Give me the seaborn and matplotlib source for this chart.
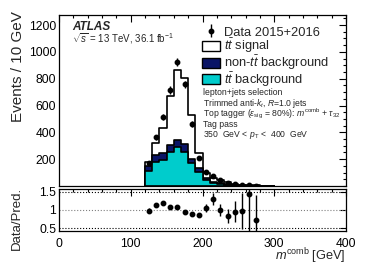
import pandas as pd
import matplotlib
matplotlib.use("Agg")
import matplotlib.pyplot as plt
import seaborn as sns
from matplotlib.patches import Patch
from matplotlib.ticker import MultipleLocator, FixedLocator

# MC prediction, 10 GeV bins of m^comb (bin centres)
mc_mass = [125, 135, 145, 155, 165, 175, 185, 195, 205, 215, 225, 235, 245, 255, 265, 275, 285, 295]
tt_bkg = [114, 176, 191, 254, 294, 252, 170, 107, 45, 20, 14, 9, 5, 3, 2, 2, 1, 0.5]
non_tt = [38, 57, 54, 55, 52, 62, 28, 25, 12, 8, 6, 4, 3, 2, 1, 1, 0.5, 0.3]
signal = [24, 85, 189, 359, 516, 491, 328, 115, 43, 30, 22, 14, 7, 4, 1.2, 1.2, 0.5, 0.3]

# data 2015+2016
data_mass = [125, 135, 145, 155, 165, 175, 185, 195, 205, 215, 225, 235, 245, 255, 265, 275]
data = [172, 363, 517, 715, 922, 757, 463, 212, 105, 76, 45, 22, 14, 9, 6, 3]
data_err = [13, 19, 23, 27, 30, 28, 22, 15, 10, 9, 7, 5, 4, 3, 2.5, 1.7]

# data / prediction
ratio = [0.98, 1.14, 1.19, 1.07, 1.07, 0.94, 0.88, 0.86, 1.05, 1.30, 0.99, 0.82, 0.95, 0.97, 1.44, 0.72]
ratio_err_up = [0.07, 0.06, 0.05, 0.04, 0.04, 0.04, 0.04, 0.06, 0.10, 0.17, 0.17, 0.19, 0.29, 0.49, 0.55, 0.69]
ratio_err_dn = [0.07, 0.06, 0.05, 0.04, 0.04, 0.04, 0.04, 0.06, 0.10, 0.17, 0.17, 0.19, 0.29, 0.49, 1.20, 0.72]

CYAN = "#00cccc"
NAVY = "#0a1466"

sns.set_theme(style="white")
plt.rcParams["font.family"] = ["Liberation Sans", "DejaVu Sans"]
plt.rcParams["mathtext.fontset"] = "custom"
plt.rcParams["mathtext.rm"] = "Liberation Sans"
plt.rcParams["mathtext.it"] = "Liberation Sans:italic"
plt.rcParams["mathtext.bf"] = "Liberation Sans:bold"

fig = plt.figure(figsize=(3.74, 2.68), dpi=100)
ax = fig.add_axes([0.158, 0.306, 0.767, 0.638])
rax = fig.add_axes([0.158, 0.139, 0.767, 0.156])

df = pd.DataFrame({"m": mc_mass, "tt_bkg": tt_bkg, "non_tt": non_tt, "signal": signal})
df["bkg_sum"] = df["tt_bkg"] + df["non_tt"]
df["total"] = df["bkg_sum"] + df["signal"]
edges = [m - 5 for m in mc_mass] + [mc_mass[-1] + 5]

# stacked histogram, drawn as cumulative layers
for col, color in [("total", "white"), ("bkg_sum", NAVY), ("tt_bkg", CYAN)]:
    sns.histplot(data=df, x="m", weights=col, bins=edges, element="step", fill=True,
                 color=color, alpha=1, edgecolor="black", linewidth=1.2, ax=ax)

dat = ax.errorbar(data_mass, data, yerr=data_err, fmt="o", color="black",
                  markersize=3.2, elinewidth=1.0, capsize=0)

ax.set_xlim(0, 400)
ax.set_ylim(0, 1275)
ax.set_xlabel("")
ax.set_ylabel("Events / 10 GeV", fontsize=11, loc="top")
ax.yaxis.set_label_coords(-0.118, 1.02)
ax.xaxis.set_major_locator(MultipleLocator(100))
ax.xaxis.set_minor_locator(MultipleLocator(20))
ax.yaxis.set_major_locator(FixedLocator([200, 400, 600, 800, 1000, 1200]))
ax.yaxis.set_minor_locator(MultipleLocator(50))
ax.tick_params(labelbottom=False)

handles = [dat, Patch(facecolor="white", edgecolor="black"),
           Patch(facecolor=NAVY, edgecolor="black"),
           Patch(facecolor=CYAN, edgecolor="black")]
labels = ["Data 2015+2016", r"$t\bar{t}$ signal", r"non-$t\bar{t}$ background", r"$t\bar{t}$ background"]
ax.legend(handles, labels, loc="upper left", bbox_to_anchor=(0.497, 0.935), frameon=False,
          fontsize=9.3, handlelength=1.45, handleheight=0.8, labelspacing=-0.13,
          handletextpad=0.25, borderpad=0, borderaxespad=0)

ax.text(0.045, 0.932, "ATLAS", transform=ax.transAxes, fontsize=8.5,
        fontweight="bold", style="italic", va="center")
ax.text(0.045, 0.864, r"$\sqrt{s}$ = 13 TeV, 36.1 fb$^{-1}$", transform=ax.transAxes,
        fontsize=7, va="center")

info = ["lepton+jets selection",
        r"Trimmed anti-$k_{t}$, $R$=1.0 jets",
        r"Top tagger ($\epsilon_{\rm sig}$ = 80%): $m^{\rm comb}$ + $\tau_{32}$",
        "Tag pass",
        r"350  GeV < $p_{\rm T}$ <  400  GeV"]
for i, line in enumerate(info):
    ax.text(0.50, 0.546 - i * 0.062, line, transform=ax.transAxes, fontsize=6.2, va="center")

# ratio panel
rax.axhline(1.0, color="gray", ls=":", lw=0.8)
rax.axhline(0.5, color="black", ls=":", lw=0.8)
rax.axhline(1.5, color="black", ls=":", lw=0.8)
rax.errorbar(data_mass, ratio, yerr=[ratio_err_dn, ratio_err_up], fmt="o", color="black",
             markersize=3.2, elinewidth=1.0, capsize=0)
rax.set_xlim(0, 400)
rax.set_ylim(0.43, 1.57)
rax.set_yticks([0.5, 1.0, 1.5])
rax.set_yticklabels(["0.5", "1", "1.5"])
rax.yaxis.set_minor_locator(MultipleLocator(0.1))
rax.xaxis.set_major_locator(MultipleLocator(100))
rax.xaxis.set_minor_locator(MultipleLocator(20))
rax.set_ylabel("Data/Pred.", fontsize=9.5, loc="top")
rax.yaxis.set_label_coords(-0.125, 1.06)
rax.set_xlabel(r"$m^{\rm comb}$ [GeV]", fontsize=9.2, loc="right", va="center")
rax.xaxis.set_label_coords(1.0, -0.6)

for a in (ax, rax):
    for s in a.spines.values():
        s.set_color("black")
        s.set_linewidth(0.9)
    a.tick_params(which="both", direction="in", top=True, right=True, colors="black",
                  labelsize=8.7, width=0.8)
    a.tick_params(which="major", length=5)
    a.tick_params(which="minor", length=2.5)
    a.tick_params(axis="y", pad=2)
    a.tick_params(axis="x", pad=5)
rax.tick_params(axis="y", which="major", length=4)
rax.tick_params(axis="y", which="minor", length=0)

fig.savefig("out.png", dpi=100)
